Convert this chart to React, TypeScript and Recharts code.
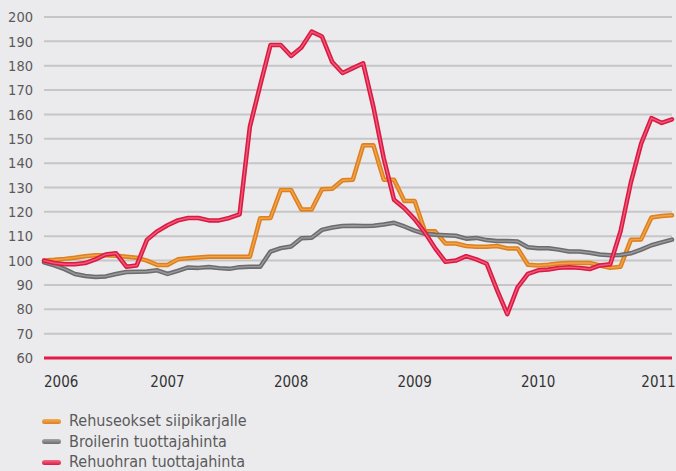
import { LineChart, Line, XAxis, YAxis, CartesianGrid } from 'recharts'

// monthly index, Jan 2006 .. Feb 2011
const months = [
  '2006-01', '2006-02', '2006-03', '2006-04', '2006-05', '2006-06', '2006-07', '2006-08', '2006-09', '2006-10', '2006-11', '2006-12',
  '2007-01', '2007-02', '2007-03', '2007-04', '2007-05', '2007-06', '2007-07', '2007-08', '2007-09', '2007-10', '2007-11', '2007-12',
  '2008-01', '2008-02', '2008-03', '2008-04', '2008-05', '2008-06', '2008-07', '2008-08', '2008-09', '2008-10', '2008-11', '2008-12',
  '2009-01', '2009-02', '2009-03', '2009-04', '2009-05', '2009-06', '2009-07', '2009-08', '2009-09', '2009-10', '2009-11', '2009-12',
  '2010-01', '2010-02', '2010-03', '2010-04', '2010-05', '2010-06', '2010-07', '2010-08', '2010-09', '2010-10', '2010-11', '2010-12',
  '2011-01', '2011-02',
]

const feedMix = [
  100, 100.3, 100.7, 101.2, 101.8, 102.2, 102.2, 102, 101.6, 101.2, 100, 98.2,
  98.2, 100.5, 101, 101.3, 101.6, 101.6, 101.6, 101.6, 101.6, 117.4, 117.5, 129,
  129, 121, 121, 129.3, 129.5, 133, 133.2, 147.3, 147.3, 133.2, 133.2, 124.5,
  124.5, 112, 112, 107, 107, 106, 105.7, 105.7, 106, 105, 105, 98.3,
  98, 98.3, 98.8, 99, 99, 99, 98, 97, 97.5, 108.5, 108.7, 117.7,
  118.3, 118.6,
]

const broilerPrice = [
  99.3, 98, 96.5, 94.5, 93.7, 93.3, 93.5, 94.5, 95.3, 95.4, 95.5, 96,
  94.5, 95.8, 97.2, 97, 97.4, 96.9, 96.6, 97.3, 97.5, 97.5, 103.7, 105.1,
  105.8, 109.2, 109.4, 112.6, 113.6, 114.2, 114.3, 114.2, 114.3, 114.8, 115.5, 114,
  112.3, 111, 110.6, 110.4, 110.2, 109, 109.3, 108.4, 108, 108, 107.8, 105.5,
  105.1, 105.1, 104.5, 103.7, 103.7, 103.2, 102.5, 102.2, 102.3, 103, 104.5, 106.3,
  107.5, 108.6,
]

const barleyPrice = [
  100, 99, 98.5, 98.5, 99, 100.5, 102.5, 103, 97.5, 98, 108.5, 112,
  114.5, 116.5, 117.5, 117.5, 116.5, 116.5, 117.5, 119, 155, 172, 188.5, 188.5,
  184, 187.5, 194, 192, 181.5, 177, 179, 181, 163, 142, 125, 121.5,
  117, 111.5, 105, 99.5, 100, 101.8, 100.5, 98.7, 88, 78, 89, 94.5,
  96, 96.3, 97, 97.3, 97, 96.5, 98, 98.5, 112, 132, 148, 158.5,
  156.5, 158,
]

const yearTicks = ['2006-01', '2007-01', '2008-01', '2009-01', '2010-01', '2011-01']
const valueTicks = [60, 70, 80, 90, 100, 110, 120, 130, 140, 150, 160, 170, 180, 190, 200]

const series = [
  { key: 'feed', name: 'Rehuseokset siipikarjalle', edge: '#dd811e', core: '#f7ab58' },
  { key: 'broiler', name: 'Broilerin tuottajahinta', edge: '#6c6c6e', core: '#a6a6a8' },
  { key: 'barley', name: 'Rehuohran tuottajahinta', edge: '#db1942', core: '#f16d88' },
]

const data = months.map((month, i) => ({
  month,
  feed: feedMix[i],
  broiler: broilerPrice[i],
  barley: barleyPrice[i],
}))

const FONT = '"DejaVu Sans Condensed", "DejaVu Sans", sans-serif'
const TEXT = '#5a5a5c'

function YearTick({ x, y, payload, index }: any) {
  const last = index === yearTicks.length - 1
  return (
    <text
      x={last ? x + 14 : x}
      y={y + 27}
      textAnchor={index === 0 ? 'start' : last ? 'end' : 'middle'}
      fill="#333335"
      fontSize={15}
      fontFamily={FONT}
    >
      {String(payload.value).slice(0, 4)}
    </text>
  )
}

export default function App() {
  return (
    <div style={{ position: 'relative', width: 676, height: 471, background: '#ebebed', fontFamily: FONT }}>
      <style>{'body{margin:0;background:#ebebed}'}</style>
      <LineChart width={676} height={400} data={data} margin={{ top: 17, right: 4, bottom: 0, left: 0 }}>
        <CartesianGrid vertical={false} stroke="#c6c6c8" strokeWidth={2} />
        <XAxis
          dataKey="month"
          ticks={yearTicks}
          interval={0}
          height={42}
          tickLine={false}
          tickSize={0}
          axisLine={{ stroke: '#e5194a', strokeWidth: 3.2 }}
          tick={<YearTick />}
        />
        <YAxis
          domain={[60, 200]}
          ticks={valueTicks}
          width={44}
          axisLine={false}
          tickLine={false}
          tickMargin={5}
          tick={{ fill: TEXT, fontSize: 14.5, fontFamily: FONT }}
        />
        {series.flatMap((s) => [
          <Line
            key={s.key + '-edge'}
            type="linear"
            dataKey={s.key}
            stroke={s.edge}
            strokeWidth={4.5}
            strokeLinejoin="round"
            strokeLinecap="round"
            dot={false}
            activeDot={false}
            isAnimationActive={false}
          />,
          <Line
            key={s.key + '-core'}
            type="linear"
            dataKey={s.key}
            stroke={s.core}
            strokeWidth={1.4}
            strokeOpacity={0.8}
            strokeLinejoin="round"
            strokeLinecap="round"
            dot={false}
            activeDot={false}
            isAnimationActive={false}
          />,
        ])}
      </LineChart>
      <div style={{ position: 'absolute', left: 42, top: 411 }}>
        {series.map((s) => (
          <div key={s.key} style={{ display: 'flex', alignItems: 'center', height: 20.6 }}>
            <span
              style={{
                display: 'inline-block',
                width: 19,
                height: 5,
                borderRadius: 3,
                marginRight: 8,
                background: `linear-gradient(to bottom, ${s.core}, ${s.edge})`,
              }}
            />
            <span style={{ color: TEXT, fontSize: 16, lineHeight: '18px', whiteSpace: 'nowrap' }}>{s.name}</span>
          </div>
        ))}
      </div>
    </div>
  )
}
